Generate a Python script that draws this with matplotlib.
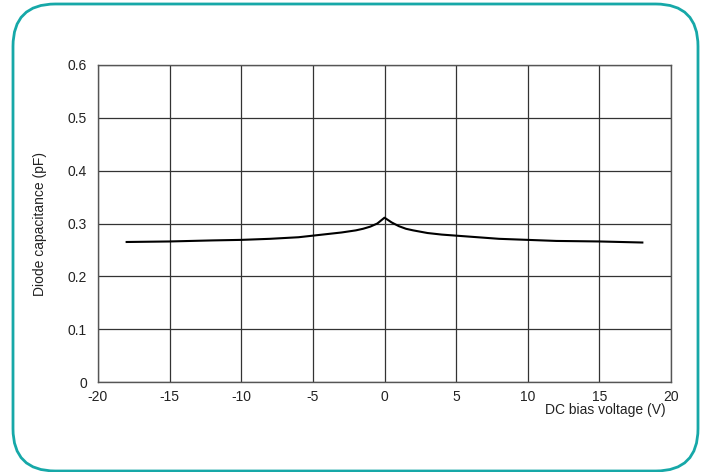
import matplotlib
matplotlib.use("Agg")
import matplotlib.pyplot as plt
from matplotlib.patches import FancyBboxPatch

plt.rcParams['font.family'] = ['Liberation Sans', 'DejaVu Sans']

# Data
bias_v = [-18, -15, -12, -10, -8, -6, -5, -4, -3, -2, -1.5, -1, -0.5, 0,
          0.5, 1, 1.5, 2, 3, 4, 5, 6, 8, 10, 12, 15, 18]
cap_pf = [0.265, 0.266, 0.268, 0.269, 0.271, 0.274, 0.277, 0.280, 0.283, 0.287, 0.290, 0.294, 0.300, 0.311,
          0.302, 0.295, 0.290, 0.287, 0.282, 0.279, 0.277, 0.275, 0.271, 0.269, 0.267, 0.266, 0.264]
x_ticks = [-20, -15, -10, -5, 0, 5, 10, 15, 20]
y_ticks = [0, 0.1, 0.2, 0.3, 0.4, 0.5, 0.6]
y_labels = ['0', '0.1', '0.2', '0.3', '0.4', '0.5', '0.6']

W, H = 705, 472
fig = plt.figure(figsize=(W / 100, H / 100), dpi=100)

# Rounded teal frame
frame = FancyBboxPatch((13 / W, 1 - 471 / H), (698 - 13) / W, (471 - 4) / H,
                       boxstyle="round,pad=0,rounding_size=0.06",
                       transform=fig.transFigure, fill=False,
                       edgecolor='#16A8A8', linewidth=2, mutation_aspect=W / H)
fig.patches.append(frame)

ax = fig.add_axes([98 / W, 1 - 382 / H, (671 - 98) / W, (382 - 65) / H])
ax.plot(bias_v, cap_pf, color='black', linewidth=1.5, zorder=3)

ax.set_xlim(-20, 20)
ax.set_ylim(0, 0.6)
ax.set_xticks(x_ticks)
ax.set_xticklabels([str(t) for t in x_ticks])
ax.set_yticks(y_ticks)
ax.set_yticklabels(y_labels)
ax.tick_params(length=0, labelsize=10, colors='#222222')
ax.tick_params(axis='x', pad=6)
ax.tick_params(axis='y', pad=8)
ax.grid(True, color='#333333', linewidth=0.9)
for s in ax.spines.values():
    s.set_color('#555555')
    s.set_linewidth(1.0)

fig.text(666 / W, 1 - 410 / H, 'DC bias voltage (V)', ha='right', va='center',
         fontsize=10, color='#222222')
fig.text(40 / W, 1 - 224 / H, 'Diode capacitance (pF)', rotation=90,
         ha='center', va='center', fontsize=10, color='#222222')

fig.savefig('out.png', dpi=100)
